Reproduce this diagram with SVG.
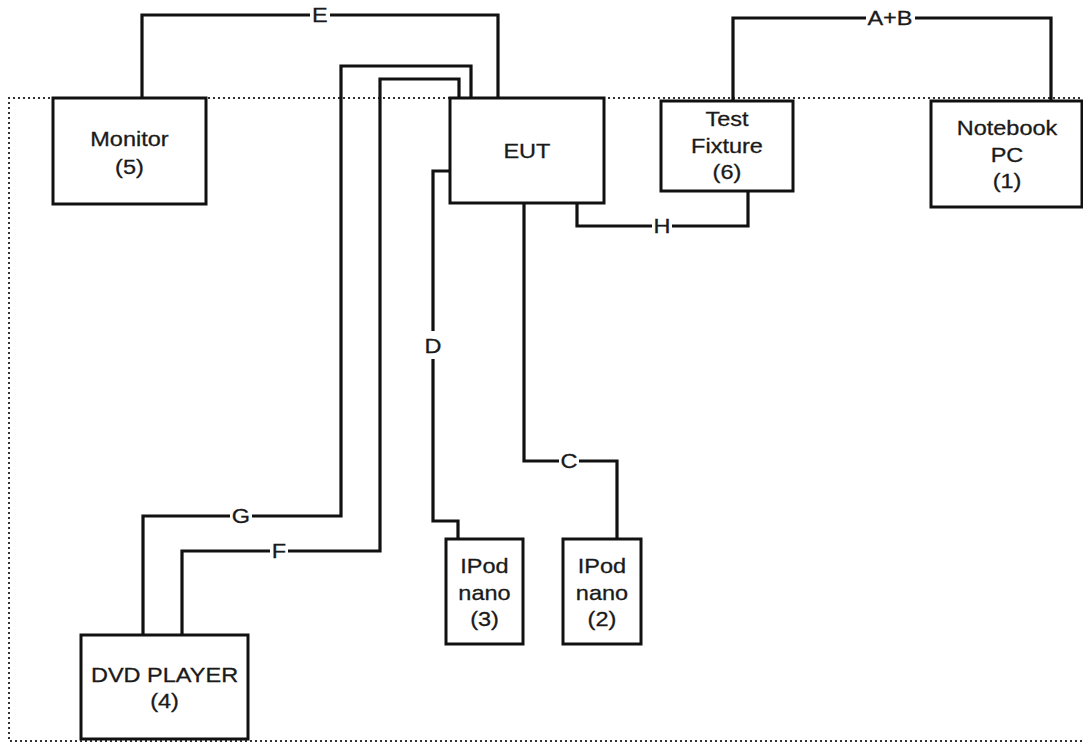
<svg xmlns="http://www.w3.org/2000/svg" width="1083" height="744" viewBox="0 0 1083 744">
<style>
.t{font-family:"Liberation Sans",Arial,sans-serif;font-size:21px;fill:#1a1a1a;stroke:#1a1a1a;stroke-width:0.3;text-anchor:middle;transform:scale(1.12,1);transform-origin:0 0;transform-box:view-box}
.box{fill:#fff;stroke:#111;stroke-width:3}
.wire{fill:none;stroke:#111;stroke-width:3.2}
.bg{fill:#fff}
</style>
<rect width="1083" height="744" fill="#fff"/>
<path d="M1090,98 H9 V741 H1090" fill="none" stroke="#333" stroke-width="2" stroke-dasharray="2 3"/>
<g id="connectors">
  <path class="wire" d="M142,98 V15 H498 V98"/>
  <path class="wire" d="M733,101 V18 H1051 V101"/>
  <path class="wire" d="M143,635 V516 H341 V66 H471 V98"/>
  <path class="wire" d="M182,635 V551 H380 V79 H459 V98"/>
  <path class="wire" d="M450,171 H433 V521 H458 V539"/>
  <path class="wire" d="M524,203 V461 H617 V539"/>
  <path class="wire" d="M577,203 V226 H748 V191"/>
  <rect class="bg" x="310" y="4" width="20" height="22"/>
  <text class="t" x="285.7" y="22.5">E</text>
  <rect class="bg" x="866" y="7" width="49" height="22"/>
  <text class="t" x="794.6" y="25.5">A+B</text>
  <rect class="bg" x="230" y="505" width="22" height="22"/>
  <text class="t" x="215.2" y="523.5">G</text>
  <rect class="bg" x="270" y="540" width="18" height="22"/>
  <text class="t" x="249.1" y="558.5">F</text>
  <rect class="bg" x="652" y="215" width="20" height="22"/>
  <text class="t" x="591.1" y="233.5">H</text>
  <rect class="bg" x="559" y="450" width="20" height="22"/>
  <text class="t" x="508" y="468.5">C</text>
  <rect class="bg" x="423" y="331" width="20" height="28"/>
  <text class="t" x="386.6" y="353">D</text>
</g>
<g id="monitor">
  <rect class="box" x="53" y="98" width="153" height="106"/>
  <text class="t" x="115.6" y="146">Monitor</text>
  <text class="t" x="115.6" y="174">(5)</text>
</g>
<g id="eut">
  <rect class="box" x="450" y="98" width="154" height="105"/>
  <text class="t" x="470.5" y="158">EUT</text>
</g>
<g id="test-fixture">
  <rect class="box" x="661" y="101" width="132" height="90"/>
  <text class="t" x="649.1" y="126">Test</text>
  <text class="t" x="649.1" y="153">Fixture</text>
  <text class="t" x="649.1" y="179">(6)</text>
</g>
<g id="notebook-pc">
  <rect class="box" x="931" y="101" width="151" height="106"/>
  <text class="t" x="899.1" y="135">Notebook</text>
  <text class="t" x="899.1" y="162">PC</text>
  <text class="t" x="899.1" y="188">(1)</text>
</g>
<g id="ipod-3">
  <rect class="box" x="446" y="539" width="77" height="105"/>
  <text class="t" x="432.6" y="573">IPod</text>
  <text class="t" x="432.6" y="600">nano</text>
  <text class="t" x="432.6" y="626">(3)</text>
</g>
<g id="ipod-2">
  <rect class="box" x="563" y="539" width="78" height="105"/>
  <text class="t" x="537.5" y="573">IPod</text>
  <text class="t" x="537.5" y="600">nano</text>
  <text class="t" x="537.5" y="626">(2)</text>
</g>
<g id="dvd-player">
  <rect class="box" x="81" y="635" width="167" height="104"/>
  <text class="t" x="146.9" y="682">DVD PLAYER</text>
  <text class="t" x="146.9" y="708">(4)</text>
</g>
</svg>
